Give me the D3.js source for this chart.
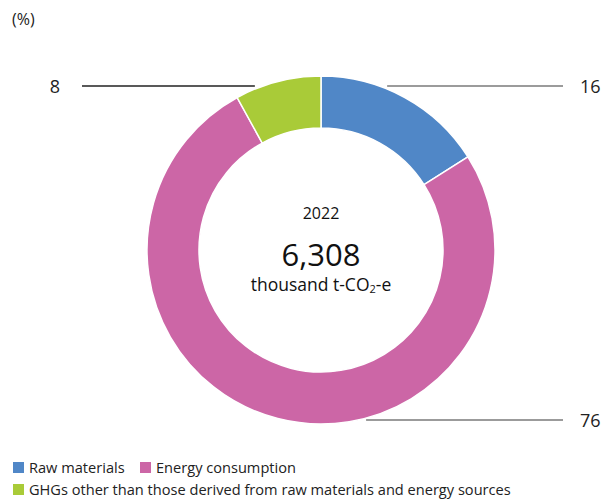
<!DOCTYPE html>
<html>
<head>
<meta charset="utf-8">
<script src="https://cdn.jsdelivr.net/npm/d3@7"></script>
<style>
  html, body { margin: 0; padding: 0; background: #fff; }
  svg { display: block; font-family: "Open Sans", "Noto Sans", sans-serif; }
</style>
</head>
<body>
<svg id="chart" width="612" height="500"></svg>
<script>
// Share of emissions by source (%), clockwise from 12 o'clock
const categories = ["Raw materials", "Energy consumption", "GHGs other than those derived from raw materials and energy sources"];
const shares = [16, 76, 8];
const colors = ["#5087c7", "#cc66a6", "#a9cb38"];
const year = "2022";
const total = "6,308";

const svg = d3.select("#chart");
const cx = 321, cy = 250, outerR = 174, innerR = 122;

const pie = d3.pie().sort(null).value(d => d.value);
const arcs = pie(categories.map((c, i) => ({ name: c, value: shares[i], color: colors[i] })));
const arc = d3.arc().innerRadius(innerR).outerRadius(outerR);

const g = svg.append("g").attr("transform", `translate(${cx},${cy})`);
g.selectAll("path")
  .data(arcs)
  .join("path")
  .attr("d", arc)
  .attr("fill", d => d.data.color)
  .attr("stroke", "#fff")
  .attr("stroke-width", 1.5);

// Leader lines with value labels
const leaders = [
  { i: 0, dy: -164, side: 1, end: 563, stroke: "#7a7a7a" },
  { i: 1, dy: 170, side: 1, end: 563, stroke: "#7a7a7a" },
  { i: 2, dy: -164, side: -1, end: 82, stroke: "#222" }
];
leaders.forEach(l => {
  const edge = Math.sqrt(outerR * outerR - l.dy * l.dy) + 8;
  const y = cy + l.dy;
  const x0 = cx + l.side * edge;
  svg.append("line")
    .attr("x1", x0).attr("x2", l.end)
    .attr("y1", y).attr("y2", y)
    .attr("stroke", l.stroke).attr("stroke-width", 1.3);
  svg.append("text")
    .attr("x", l.side > 0 ? l.end + 17 : l.end - 22)
    .attr("y", y + 6.5)
    .attr("text-anchor", l.side > 0 ? "start" : "end")
    .attr("font-size", 18)
    .attr("fill", "#222")
    .text(arcs[l.i].data.value);
});

// Centre text
svg.append("text").attr("x", cx).attr("y", 219).attr("text-anchor", "middle")
  .attr("font-size", 16).attr("fill", "#111").text(year);
svg.append("text").attr("x", cx).attr("y", 266).attr("text-anchor", "middle")
  .attr("font-size", 31).attr("fill", "#111").text(total);
const unit = svg.append("text").attr("x", cx).attr("y", 291).attr("text-anchor", "middle")
  .attr("font-size", 17.5).attr("fill", "#111");
unit.append("tspan").text("thousand t-CO");
unit.append("tspan").attr("font-size", 11).attr("dy", 2).text("2");
unit.append("tspan").attr("dy", -2).text("-e");

// Unit note
svg.append("text").attr("x", 12).attr("y", 25).attr("font-size", 16)
  .attr("fill", "#222").text("(%)");

// Legend
const legendItems = [
  { i: 0, x: 13, y: 462 },
  { i: 1, x: 140, y: 462 },
  { i: 2, x: 13, y: 484 }
];
legendItems.forEach(it => {
  svg.append("rect").attr("x", it.x).attr("y", it.y).attr("width", 11).attr("height", 11)
    .attr("fill", colors[it.i]);
  svg.append("text").attr("x", it.x + 16).attr("y", it.y + 11)
    .attr("font-size", 14.6).attr("fill", "#222").text(categories[it.i]);
});
</script>
</body>
</html>
